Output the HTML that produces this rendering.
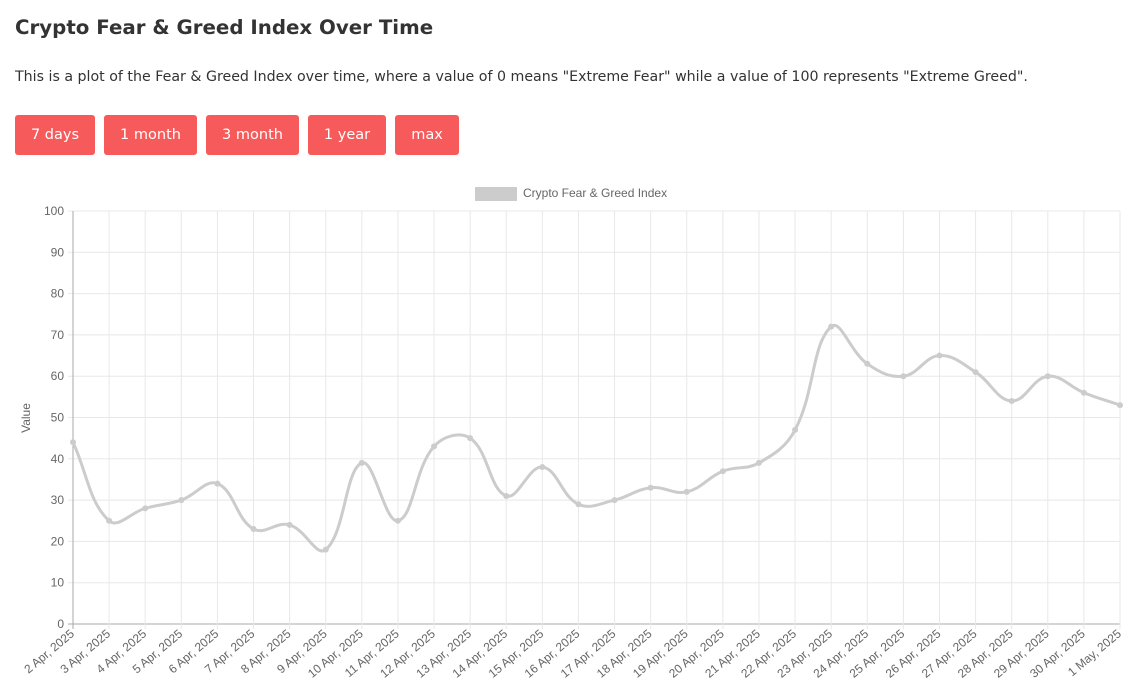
<!DOCTYPE html>
<html><head><meta charset="utf-8"><style>
body{margin:0;width:1142px;height:694px;background:#fff;font-family:"DejaVu Sans","Liberation Sans",sans-serif;color:#333;overflow:hidden}
h1{position:absolute;left:15px;top:16px;margin:0;font-size:19.8px;font-weight:bold;color:#333}
p{position:absolute;left:15px;top:69px;margin:0;font-size:14.2px;color:#333}
.btns{position:absolute;left:15px;top:115px}
.btn{position:absolute;top:0;background:#f65a5a;color:#fff;font-size:14.5px;height:40px;line-height:40px;text-align:center;border-radius:3px}
svg{position:absolute;left:0;top:0}
</style></head><body>
<h1>Crypto Fear &amp; Greed Index Over Time</h1>
<p>This is a plot of the Fear &amp; Greed Index over time, where a value of 0 means "Extreme Fear" while a value of 100 represents "Extreme Greed".</p>
<div class="btns">
<div class="btn" style="left:0;width:80px">7 days</div>
<div class="btn" style="left:89px;width:93px">1 month</div>
<div class="btn" style="left:191px;width:93px">3 month</div>
<div class="btn" style="left:293px;width:78px">1 year</div>
<div class="btn" style="left:380px;width:64px">max</div>
</div>
<svg id="chart" width="1142" height="694" style="font-family:'Liberation Sans',sans-serif"></svg>
<script>
const categories=["2 Apr, 2025","3 Apr, 2025","4 Apr, 2025","5 Apr, 2025","6 Apr, 2025","7 Apr, 2025","8 Apr, 2025","9 Apr, 2025","10 Apr, 2025","11 Apr, 2025","12 Apr, 2025","13 Apr, 2025","14 Apr, 2025","15 Apr, 2025","16 Apr, 2025","17 Apr, 2025","18 Apr, 2025","19 Apr, 2025","20 Apr, 2025","21 Apr, 2025","22 Apr, 2025","23 Apr, 2025","24 Apr, 2025","25 Apr, 2025","26 Apr, 2025","27 Apr, 2025","28 Apr, 2025","29 Apr, 2025","30 Apr, 2025","1 May, 2025"];
const values=[44,25,28,30,34,23,24,18,39,25,43,45,31,38,29,30,33,32,37,39,47,72,63,60,65,61,54,60,56,53];
const yTicks=[0,10,20,30,40,50,60,70,80,90,100];
const svg=document.getElementById('chart');const NS='http://www.w3.org/2000/svg';
const L=73,R=1120,T=211,B=624;
const xs=i=>L+i*(R-L)/(categories.length-1);
const ys=v=>B-(v/100)*(B-T);
function mk(t,a,parent){const e=document.createElementNS(NS,t);for(const k in a)e.setAttribute(k,a[k]);(parent||svg).appendChild(e);return e;}
yTicks.forEach(v=>{
 const g=mk('line',{x1:L-5,x2:R,y1:ys(v),y2:ys(v),stroke:v===0?'#aaa':'#e8e8e8','stroke-width':1});
 
 
 const t=mk('text',{x:L-9,y:ys(v)+4,'text-anchor':'end','font-size':12,fill:'#666'});t.textContent=v;
 
 
});
categories.forEach((c,i)=>{
 const g=mk('line',{x1:xs(i),x2:xs(i),y1:T,y2:B+5,stroke:i===0?'#aaa':'#e8e8e8','stroke-width':1});
 
 
 const t=mk('text',{x:xs(i)+2,y:B+11,'text-anchor':'end','font-size':12,fill:'#666',transform:`rotate(-40 ${xs(i)+2} ${B+11})`});t.textContent=c;
 
 
});
const yt=mk('text',{x:30,y:418,'text-anchor':'middle','font-size':12,fill:'#666',transform:'rotate(-90 30 418)'});yt.textContent='Value';


const lb=mk('rect',{x:475,y:187,width:42,height:14,fill:'#ccc'});


const lt=mk('text',{x:523,y:197,'font-size':12,fill:'#666'});lt.textContent='Crypto Fear & Greed Index';


const pts=values.map((v,i)=>[xs(i),ys(v)]);
const tension=0.4;let d=`M${pts[0][0]},${pts[0][1]}`;
const cps=pts.map((p,i)=>{const pr=pts[i-1]||p,nx=pts[i+1]||p;
 const d01=Math.hypot(p[0]-pr[0],p[1]-pr[1]),d12=Math.hypot(nx[0]-p[0],nx[1]-p[1]);
 let fa=d01/(d01+d12)||0,fb=d12/(d01+d12)||0;fa*=tension;fb*=tension;
 return {p:[p[0]-fa*(nx[0]-pr[0]),p[1]-fa*(nx[1]-pr[1])],n:[p[0]+fb*(nx[0]-pr[0]),p[1]+fb*(nx[1]-pr[1])]};});
for(let i=1;i<pts.length;i++){d+=` C${cps[i-1].n[0]},${cps[i-1].n[1]} ${cps[i].p[0]},${cps[i].p[1]} ${pts[i][0]},${pts[i][1]}`;}
const line=mk('path',{d:d,fill:'none',stroke:'#ccc','stroke-width':3});


pts.forEach(p=>{const c=mk('circle',{cx:p[0],cy:p[1],r:3,fill:'#ccc'});
 
 });
</script>
</body></html>
